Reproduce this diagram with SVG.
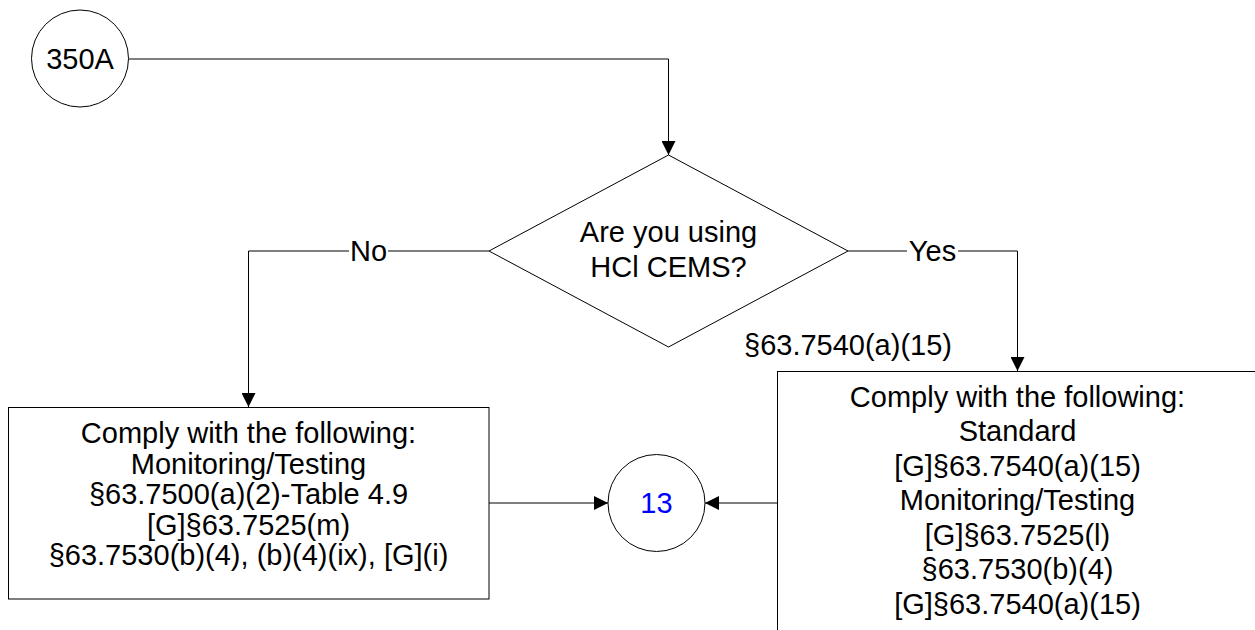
<svg xmlns="http://www.w3.org/2000/svg" width="1255" height="630" viewBox="0 0 1255 630">
  <defs>
    <marker id="arr" markerWidth="14" markerHeight="14" refX="14" refY="7" orient="auto" markerUnits="userSpaceOnUse">
      <path d="M0,0 L14,7 L0,14 Z" fill="#000"/>
    </marker>
    <style>
      .shape { fill: #fff; stroke: #000; stroke-width: 1; }
      .conn { fill: none; stroke: #000; stroke-width: 1; }
      .t { font-family: "Liberation Sans", Arial, sans-serif; font-size: 29px; fill: #000; text-anchor: middle; }
      .blue { fill: #0000ff; }
      .lblbg { fill: #fff; stroke: none; }
    </style>
  </defs>
  <rect x="0" y="0" width="1255" height="630" fill="#fff"/>

  <g id="connectors">
    <path class="conn" d="M128.5,59 H668.5 V155" marker-end="url(#arr)"/>
    <path class="conn" d="M489,251 H248.5 V407" marker-end="url(#arr)"/>
    <path class="conn" d="M848,251 H1017.5 V371" marker-end="url(#arr)"/>
    <path class="conn" d="M489,503 H608" marker-end="url(#arr)"/>
    <path class="conn" d="M777,503 H705" marker-end="url(#arr)"/>
    <rect class="lblbg" x="349" y="238" width="39" height="26"/>
    <text class="t" x="368.5" y="261">No</text>
    <rect class="lblbg" x="907" y="238" width="51" height="26"/>
    <text class="t" x="932.5" y="261">Yes</text>
    <text class="t" x="848" y="355">§63.7540(a)(15)</text>
  </g>

  <g id="start-350A">
    <ellipse class="shape" cx="80" cy="58.5" rx="48.5" ry="48.5"/>
    <text class="t" x="80" y="69">350A</text>
  </g>

  <g id="decision">
    <polygon class="shape" points="668.5,155 848,251 668.5,347 489,251"/>
    <text class="t" x="668.5" y="242">Are you using</text>
    <text class="t" x="668.5" y="277">HCl CEMS?</text>
  </g>

  <g id="box-no">
    <rect class="shape" x="8.5" y="407.5" width="480.5" height="191.5"/>
    <text class="t" x="248.5" y="443">Comply with the following:</text>
    <text class="t" x="248.5" y="473.5">Monitoring/Testing</text>
    <text class="t" x="248.5" y="504">§63.7500(a)(2)-Table 4.9</text>
    <text class="t" x="248.5" y="534.5">[G]§63.7525(m)</text>
    <text class="t" x="248.5" y="565">§63.7530(b)(4), (b)(4)(ix), [G](i)</text>
  </g>

  <g id="box-yes">
    <rect class="shape" x="777.5" y="371.5" width="481" height="264"/>
    <text class="t" x="1017.5" y="406.5">Comply with the following:</text>
    <text class="t" x="1017.5" y="441">Standard</text>
    <text class="t" x="1017.5" y="475.5">[G]§63.7540(a)(15)</text>
    <text class="t" x="1017.5" y="510">Monitoring/Testing</text>
    <text class="t" x="1017.5" y="544.5">[G]§63.7525(l)</text>
    <text class="t" x="1017.5" y="579">§63.7530(b)(4)</text>
    <text class="t" x="1017.5" y="613.5">[G]§63.7540(a)(15)</text>
  </g>

  <g id="end-13">
    <ellipse class="shape" cx="656.5" cy="503" rx="48.5" ry="48.5"/>
    <text class="t blue" x="656.5" y="513">13</text>
  </g>
</svg>
